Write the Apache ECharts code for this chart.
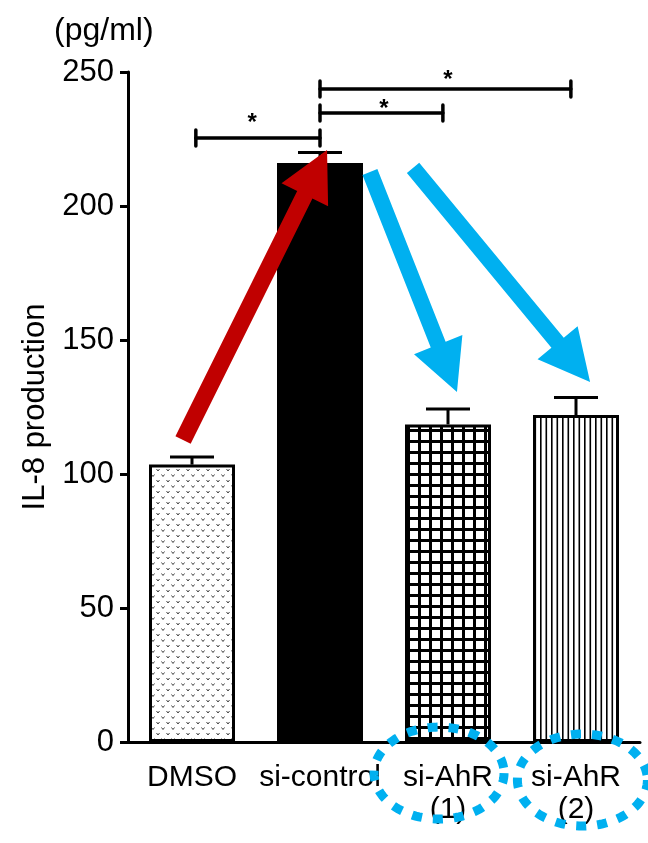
<!DOCTYPE html>
<html><head><meta charset="utf-8">
<script src="https://cdn.jsdelivr.net/npm/echarts@6/dist/echarts.min.js"></script>
<style>html,body{margin:0;padding:0;background:#fff}#c{width:648px;height:843px}</style>
</head><body><div id="c"></div>
<script>
const categories = ['DMSO', 'si-control', 'si-AhR\n(1)', 'si-AhR\n(2)'];
const means = [103.5, 216, 118.5, 122];
const errTops = [106.3, 220, 124.3, 128.5];
const yTicks = [0, 50, 100, 150, 200, 250];
// significance brackets: [xStart, xEnd, y]
const brackets = [[0.03, 1.0, 225.4], [1.0, 1.96, 234.7], [1.0, 2.96, 243.7]];
// star labels: [x, y]
const stars = [[0.47, 230.9], [1.5, 236.2], [2.0, 246.8]];
// arrows: [x0, y0, x1, y1]
const redArrows = [[-0.07, 112.7, 1.055, 220.9]];
const blueArrows = [[1.39, 212.7, 2.07, 130.6], [1.727, 214.2, 3.11, 134.3]];
// dotted ellipses centers: [x, y]
const ellipses = [[1.93, -11.6], [3.05, -14.2]];

function makePattern(kind) {
  const c = document.createElement('canvas');
  const ctx = c.getContext('2d');
  if (kind === 'dots') {
    c.width = 10; c.height = 11;
    ctx.fillStyle = '#fff'; ctx.fillRect(0, 0, 10, 11);
    ctx.strokeStyle = '#444'; ctx.lineWidth = 1;
    const v = (x, y) => { ctx.beginPath(); ctx.moveTo(x - 1.5, y - 1); ctx.lineTo(x, y + 1); ctx.lineTo(x + 1.5, y - 1); ctx.stroke(); };
    v(3, 2.5); v(8, 8);
  } else if (kind === 'grid') {
    c.width = 11; c.height = 11;
    ctx.fillStyle = '#fff'; ctx.fillRect(0, 0, 11, 11);
    ctx.fillStyle = '#000';
    ctx.fillRect(0, 0, 3, 11); ctx.fillRect(0, 0, 11, 3);
  } else {
    c.width = 11; c.height = 4;
    ctx.fillStyle = '#fff'; ctx.fillRect(0, 0, 11, 4);
    ctx.fillStyle = '#000';
    ctx.fillRect(1, 0, 1.6, 4); ctx.fillRect(6.5, 0, 1.6, 4);
  }
  return { image: c, repeat: 'repeat' };
}
const fills = [makePattern('dots'), '#000', makePattern('grid'), makePattern('vlines')];

const font = '"Liberation Sans", Arial, Helvetica, sans-serif';
const chart = echarts.init(document.getElementById('c'), null, { renderer: 'canvas' });

function arrowPoly(p0, p1, shaftW, headW, headL) {
  const dx = p1[0] - p0[0], dy = p1[1] - p0[1];
  const L = Math.sqrt(dx * dx + dy * dy);
  const ux = dx / L, uy = dy / L, nx = -uy, ny = ux;
  const bx = p1[0] - ux * headL, by = p1[1] - uy * headL;
  return [
    [p0[0] + nx * shaftW / 2, p0[1] + ny * shaftW / 2],
    [bx + nx * shaftW / 2, by + ny * shaftW / 2],
    [bx + nx * headW / 2, by + ny * headW / 2],
    [p1[0], p1[1]],
    [bx - nx * headW / 2, by - ny * headW / 2],
    [bx - nx * shaftW / 2, by - ny * shaftW / 2],
    [p0[0] - nx * shaftW / 2, p0[1] - ny * shaftW / 2]
  ];
}

chart.setOption({
  animation: false,
  title: { text: '(pg/ml)', left: 49, top: 10, textStyle: { fontFamily: font, fontSize: 32, fontWeight: 'normal', color: '#000' } },
  grid: { left: 128, right: 8, top: 72, bottom: 101 },
  xAxis: [
    { type: 'category', data: categories,
      axisLine: { onZero: false, lineStyle: { color: '#000', width: 3 } },
      axisTick: { show: false },
      axisLabel: { color: '#000', fontFamily: font, fontSize: 30, margin: 20, lineHeight: 32, interval: 0 } },
    { type: 'value', min: -0.5, max: 3.5, show: false }
  ],
  yAxis: {
    type: 'value', min: yTicks[0], max: yTicks[yTicks.length - 1], interval: 50,
    name: 'IL-8 production', nameLocation: 'middle', nameGap: 68,
    nameTextStyle: { color: '#000', fontFamily: font, fontSize: 31 },
    axisLine: { show: true, onZero: false, lineStyle: { color: '#000', width: 3 } },
    axisTick: { show: true, length: 8, lineStyle: { color: '#000', width: 3 } },
    axisLabel: { color: '#000', fontFamily: font, fontSize: 31, margin: 14 },
    splitLine: { show: false }
  },
  series: [
    { type: 'bar', barWidth: 86,
      data: means.map((v, i) => ({ value: v, itemStyle: { color: fills[i], borderColor: '#000', borderWidth: 3 } })) },
    { type: 'custom', xAxisIndex: 0, z: 3,
      data: means.map((v, i) => [i, v, errTops[i]]),
      renderItem: function (params, api) {
        const a = api.coord([api.value(0), api.value(1)]);
        const b = api.coord([api.value(0), api.value(2)]);
        const st = { stroke: '#000', lineWidth: 3 };
        return { type: 'group', children: [
          { type: 'line', shape: { x1: a[0], y1: a[1], x2: b[0], y2: b[1] }, style: st },
          { type: 'line', shape: { x1: b[0] - 22, y1: b[1], x2: b[0] + 22, y2: b[1] }, style: st }
        ] };
      } },
    { type: 'custom', xAxisIndex: 1, z: 4,
      data: brackets,
      renderItem: function (params, api) {
        const a = api.coord([api.value(0), api.value(2)]);
        const b = api.coord([api.value(1), api.value(2)]);
        const st = { stroke: '#000', lineWidth: 3.5, lineCap: 'round' };
        return { type: 'group', children: [
          { type: 'line', shape: { x1: a[0], y1: a[1], x2: b[0], y2: b[1] }, style: st },
          { type: 'line', shape: { x1: a[0], y1: a[1] - 8, x2: a[0], y2: a[1] + 8 }, style: st },
          { type: 'line', shape: { x1: b[0], y1: b[1] - 8, x2: b[0], y2: b[1] + 8 }, style: st }
        ] };
      } },
    { type: 'custom', xAxisIndex: 1, z: 4,
      data: stars,
      renderItem: function (params, api) {
        const p = api.coord([api.value(0), api.value(1)]);
        return { type: 'text', x: p[0], y: p[1], style: { text: '*', fill: '#000', font: 'bold 24px ' + font, textAlign: 'center', textVerticalAlign: 'middle' } };
      } },
    { type: 'custom', xAxisIndex: 1, z: 6,
      data: redArrows,
      renderItem: function (params, api) {
        const p0 = api.coord([api.value(0), api.value(1)]);
        const p1 = api.coord([api.value(2), api.value(3)]);
        return { type: 'polygon', shape: { points: arrowPoly(p0, p1, 17, 52, 50) }, style: { fill: '#c00000' } };
      } },
    { type: 'custom', xAxisIndex: 1, z: 6,
      data: blueArrows,
      renderItem: function (params, api) {
        const p0 = api.coord([api.value(0), api.value(1)]);
        const p1 = api.coord([api.value(2), api.value(3)]);
        return { type: 'polygon', shape: { points: arrowPoly(p0, p1, 16, 52, 51) }, style: { fill: '#00b0f0' } };
      } },
    { type: 'custom', xAxisIndex: 1, z: 7, clip: false,
      data: ellipses,
      renderItem: function (params, api) {
        const c = api.coord([api.value(0), api.value(1)]);
        const pts = [];
        for (let k = 0; k < 120; k++) {
          const t = k / 120 * Math.PI * 2;
          pts.push([c[0] + 65 * Math.cos(t), c[1] + 46 * Math.sin(t)]);
        }
        return { type: 'polygon', shape: { points: pts }, style: { fill: null, stroke: '#00b0f0', lineWidth: 9, lineDash: [10, 11], lineCap: 'butt' } };
      } }
  ]
});
</script></body></html>
